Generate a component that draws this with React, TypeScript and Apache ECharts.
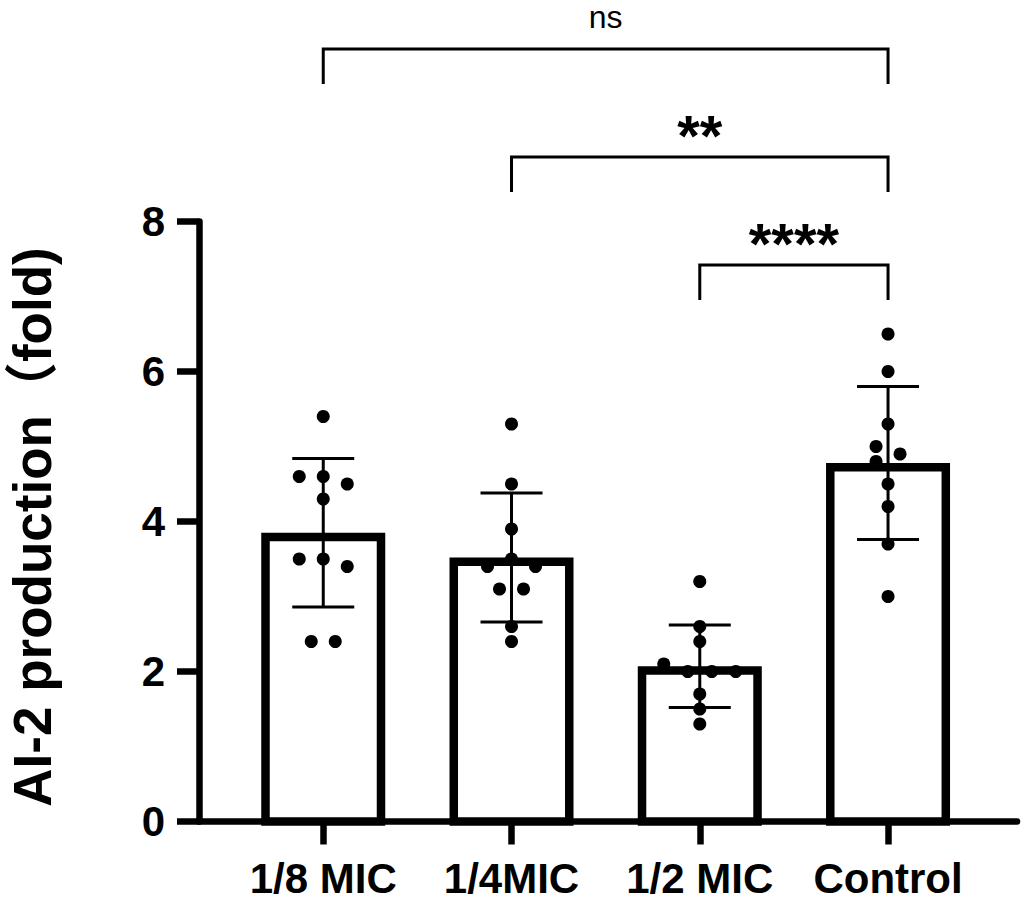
import React, { useEffect, useRef } from "react";
import * as echarts from "echarts";

const FONT = "'Liberation Sans', Arial, 'Noto Sans CJK SC', sans-serif";

// categories and summary values
const categories = ["1/8 MIC", "1/4MIC", "1/2 MIC", "Control"];
const means = [3.85, 3.52, 2.07, 4.78];
const sds = [0.99, 0.86, 0.55, 1.02];

// individual replicate points (value) and their horizontal slot in the swarm
const pts18 = [5.4, 4.6, 4.6, 4.5, 4.3, 3.5, 3.5, 3.4, 2.4, 2.4];
const slots18 = [0, -1, 0, 1, 0, -1, 0, 1, -0.5, 0.5];
const pts14 = [5.3, 4.5, 3.9, 3.5, 3.4, 3.4, 3.1, 3.1, 2.6, 2.4];
const slots14 = [0, 0, 0, 0, -1, 1, -0.5, 0.5, 0, 0];
const pts12 = [3.2, 2.6, 2.4, 2.1, 2.0, 2.0, 2.0, 1.7, 1.5, 1.3];
const slots12 = [0, 0, 0, -1.5, -0.5, 0.5, 1.5, 0, 0, 0];
const ptsCtrl = [6.5, 6.0, 5.3, 5.0, 4.9, 4.8, 4.5, 4.2, 3.7, 3.0];
const slotsCtrl = [0, 0, 0, -0.5, 0.5, -0.5, 0, 0, 0, 0];

// y tick labels
const yTicks = [0, 2, 4, 6, 8];

// significance brackets
const bracketFrom = [0, 1, 2];
const bracketTo = [3, 3, 3];
const bracketY = [10.3, 8.86, 7.42];
const bracketLabels = ["ns", "**", "****"];

const yTitle = "AI-2 production（fold)";

export default function App() {
  const ref = useRef<HTMLDivElement>(null);

  useEffect(() => {
    if (!ref.current) return;
    const chart = echarts.init(ref.current, null, { renderer: "svg" });

    const allPts = [pts18, pts14, pts12, ptsCtrl];
    const allSlots = [slots18, slots14, slots12, slotsCtrl];
    const dotData: number[][] = [];
    allPts.forEach((arr, ci) => {
      arr.forEach((v, k) => dotData.push([ci, v, allSlots[ci][k]]));
    });

    const barData = means.map((m, i) => [i, m]);
    const errData = means.map((m, i) => [i, m, sds[i]]);
    const brData = bracketFrom.map((f, i) => [f, bracketTo[i], bracketY[i], i]);

    const BAR_HALF = 62;
    const BAR_LW = 8.5;
    const CAP = 31;
    const SLOT_PX = 24;
    const LEG = 35;

    const option: any = {
      animation: false,
      backgroundColor: "#fff",
      grid: { left: 199, right: 6, top: 221.5, bottom: 79.5, containLabel: false },
      xAxis: {
        type: "value",
        min: -0.66,
        max: 3.685,
        axisLine: { show: true, onZero: false, lineStyle: { color: "#000", width: 6.5 } },
        axisTick: {
          show: true,
          customValues: [0, 1, 2, 3],
          length: 23,
          lineStyle: { color: "#000", width: 6.5 },
        },
        axisLabel: {
          show: true,
          customValues: [0, 1, 2, 3],
          formatter: (v: number) => categories[Math.round(v)] ?? "",
          fontSize: 42,
          fontWeight: "bold",
          fontFamily: FONT,
          color: "#000",
          margin: 36,
        },
        splitLine: { show: false },
      },
      yAxis: {
        type: "value",
        min: yTicks[0],
        max: yTicks[yTicks.length - 1],
        interval: 2,
        axisLine: { show: true, onZero: false, lineStyle: { color: "#000", width: 6.5 } },
        axisTick: { show: true, length: 22, lineStyle: { color: "#000", width: 6.5 } },
        axisLabel: {
          fontSize: 42,
          fontWeight: "bold",
          fontFamily: FONT,
          color: "#000",
          margin: 34,
        },
        splitLine: { show: false },
      },
      graphic: [
        {
          type: "text",
          x: 32,
          y: 527,
          rotation: Math.PI / 2,
          style: {
            text: yTitle,
            fontSize: 53,
            fontWeight: "bold",
            fontFamily: FONT,
            fill: "#000",
            textAlign: "center",
            textVerticalAlign: "middle",
            align: "center",
            verticalAlign: "middle",
          },
        },
      ],
      series: [
        {
          type: "custom",
          z: 2,
          clip: false,
          data: barData,
          renderItem: (params: any, api: any) => {
            const i = api.value(0);
            const m = api.value(1);
            const top = api.coord([i, m]);
            const base = api.coord([i, 0]);
            return {
              type: "rect",
              shape: {
                x: top[0] - BAR_HALF + BAR_LW / 2,
                y: top[1] + BAR_LW / 2,
                width: 2 * BAR_HALF - BAR_LW,
                height: base[1] - top[1] - BAR_LW / 2,
              },
              style: { fill: "#fff", stroke: "#000", lineWidth: BAR_LW },
            };
          },
        },
        {
          type: "custom",
          z: 3,
          clip: false,
          data: errData,
          renderItem: (params: any, api: any) => {
            const i = api.value(0);
            const m = api.value(1);
            const s = api.value(2);
            const hi = api.coord([i, m + s]);
            const lo = api.coord([i, m - s]);
            const st = { stroke: "#000", lineWidth: 3, fill: null };
            return {
              type: "group",
              children: [
                { type: "line", shape: { x1: hi[0], y1: hi[1], x2: lo[0], y2: lo[1] }, style: st },
                { type: "line", shape: { x1: hi[0] - CAP, y1: hi[1], x2: hi[0] + CAP, y2: hi[1] }, style: st },
                { type: "line", shape: { x1: lo[0] - CAP, y1: lo[1], x2: lo[0] + CAP, y2: lo[1] }, style: st },
              ],
            };
          },
        },
        {
          type: "custom",
          z: 4,
          clip: false,
          data: dotData,
          renderItem: (params: any, api: any) => {
            const p = api.coord([api.value(0), api.value(1)]);
            return {
              type: "circle",
              shape: { cx: p[0] + api.value(2) * SLOT_PX, cy: p[1], r: 6.5 },
              style: { fill: "#000" },
            };
          },
        },
        {
          type: "custom",
          z: 5,
          clip: false,
          data: brData,
          renderItem: (params: any, api: any) => {
            const a = api.coord([api.value(0), api.value(2)]);
            const b = api.coord([api.value(1), api.value(2)]);
            const idx = api.value(3);
            const label = bracketLabels[idx];
            const isNs = label === "ns";
            const st = { stroke: "#000", lineWidth: 3, fill: null };
            const cx = (a[0] + b[0]) / 2;
            return {
              type: "group",
              children: [
                {
                  type: "polyline",
                  shape: { points: [[a[0], a[1] + LEG], [a[0], a[1]], [b[0], b[1]], [b[0], b[1] + LEG]] },
                  style: st,
                },
                {
                  type: "text",
                  x: cx,
                  y: isNs ? a[1] - 32 : a[1] - 22,
                  style: {
                    text: label,
                    fontSize: isNs ? 32 : 58,
                    fontWeight: isNs ? "normal" : "bold",
                    fontFamily: FONT,
                    fill: "#000",
                    align: "center",
                    verticalAlign: "middle",
                  },
                },
              ],
            };
          },
        },
      ],
    };

    chart.setOption(option);
    return () => chart.dispose();
  }, []);

  return (
    <div
      ref={ref}
      style={{ position: "fixed", left: 0, top: 0, width: 1023, height: 901, background: "#fff" }}
    />
  );
}
